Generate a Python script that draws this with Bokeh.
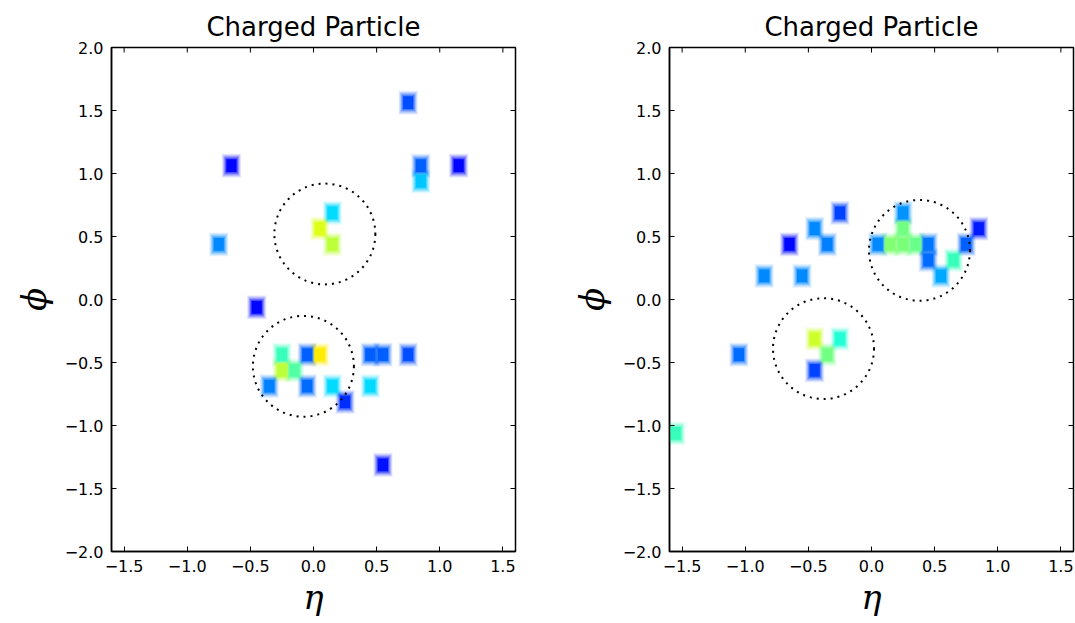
import numpy as np
from bokeh.plotting import figure
from bokeh.layouts import row
from bokeh.models import FixedTicker, Range1d
from bokeh.embed import file_html
from bokeh.resources import INLINE

# ---------------- data ----------------
title_text = "Charged Particle"
x_label = "η"
y_label = "ϕ"
x_ticks = [-1.5, -1.0, -0.5, 0.0, 0.5, 1.0, 1.5]
x_tick_labels = ["−1.5", "−1.0", "−0.5", "0.0", "0.5", "1.0", "1.5"]
y_ticks = [-2.0, -1.5, -1.0, -0.5, 0.0, 0.5, 1.0, 1.5, 2.0]
y_tick_labels = ["−2.0", "−1.5", "−1.0", "−0.5", "0.0", "0.5", "1.0", "1.5", "2.0"]
x_range = (-1.6, 1.6)
y_range = (-2.0, 2.0)
cell_w = 0.1
cell_h = 0.125
circle_radius = 0.4

left_eta = [0.75, -0.65, 0.85, 0.85, 1.15, -0.75, 0.15, 0.05, 0.15, -0.45,
            -0.25, -0.05, 0.05, 0.45, 0.55, 0.75, -0.25, -0.15, -0.35, -0.05,
            0.15, 0.45, 0.25, 0.55]
left_phi = [1.5625, 1.0625, 1.0625, 0.9375, 1.0625, 0.4375, 0.6875, 0.5625, 0.4375, -0.0625,
            -0.4375, -0.4375, -0.4375, -0.4375, -0.4375, -0.4375, -0.5625, -0.5625, -0.6875, -0.6875,
            -0.6875, -0.6875, -0.8125, -1.3125]
left_val = [0.20, 0.13, 0.22, 0.32, 0.13, 0.26, 0.34, 0.62, 0.58, 0.13,
            0.42, 0.22, 0.66, 0.22, 0.22, 0.20, 0.58, 0.45, 0.25, 0.23,
            0.34, 0.34, 0.17, 0.14]
left_circle_eta = [0.09, -0.08]
left_circle_phi = [0.52, -0.53]

right_eta = [-1.55, -1.05, -0.85, -0.65, -0.55, -0.45, -0.35, -0.25, -0.45, -0.25,
             -0.35, -0.45, 0.05, 0.15, 0.25, 0.35, 0.45, 0.25, 0.25, 0.45,
             0.55, 0.65, 0.75, 0.85]
right_phi = [-1.0625, -0.4375, 0.1875, 0.4375, 0.1875, 0.5625, 0.4375, 0.6875, -0.3125, -0.3125,
             -0.4375, -0.5625, 0.4375, 0.4375, 0.4375, 0.4375, 0.4375, 0.5625, 0.6875, 0.3125,
             0.1875, 0.3125, 0.4375, 0.5625]
right_val = [0.42, 0.23, 0.26, 0.13, 0.26, 0.26, 0.25, 0.19, 0.60, 0.39,
             0.49, 0.19, 0.26, 0.51, 0.50, 0.48, 0.24, 0.49, 0.27, 0.23,
             0.29, 0.42, 0.22, 0.15]
right_circle_eta = [-0.38, 0.38]
right_circle_phi = [-0.39, 0.39]

# ---------------- styling helpers ----------------
_jet = {
    "r": ([0, 0.35, 0.66, 0.89, 1], [0, 0, 1, 1, 0.5]),
    "g": ([0, 0.125, 0.375, 0.64, 0.91, 1], [0, 0, 1, 1, 0, 0]),
    "b": ([0, 0.11, 0.34, 0.65, 1], [0.5, 1, 1, 0, 0]),
}


def jet(v):
    r = np.interp(v, *_jet["r"])
    g = np.interp(v, *_jet["g"])
    b = np.interp(v, *_jet["b"])
    return "#%02x%02x%02x" % (int(r * 255), int(g * 255), int(b * 255))


# soft (interpolated) look: stacked translucent squares
halo_layers = [(1.55, 0.06), (1.45, 0.08), (1.35, 0.10), (1.25, 0.13),
               (1.15, 0.17), (1.05, 0.24), (0.95, 0.35)]
core_scale = 0.8


def make_panel(eta, phi, val, ceta, cphi, left_b, right_b, top_b, bottom_b):
    p = figure(frame_width=404, frame_height=504, output_backend="svg",
               toolbar_location=None, x_range=Range1d(*x_range), y_range=Range1d(*y_range),
               min_border_left=left_b, min_border_right=right_b,
               min_border_top=top_b, min_border_bottom=bottom_b,
               background_fill_color="white", border_fill_color="white")
    p.grid.visible = False
    p.outline_line_color = "black"
    p.outline_line_width = 1.5

    colors = [jet(v) for v in val]
    for s, a in halo_layers:
        p.rect(x=eta, y=phi, width=cell_w * s, height=cell_h * s, fill_color=colors,
               fill_alpha=a, line_color=None)
    p.rect(x=eta, y=phi, width=cell_w * core_scale, height=cell_h * core_scale,
           fill_color=colors, line_color=None)

    p.ellipse(x=ceta, y=cphi, width=2 * circle_radius, height=2 * circle_radius,
              fill_color=None, line_color="black", line_width=2, line_dash="2 5")

    # mirrored inward ticks on the top and right frame edges (clipped to the frame)
    p.scatter(x=x_ticks, y=[y_range[1]] * len(x_ticks), marker="dash", size=10,
              angle=np.pi / 2, line_color="black", line_width=1)
    p.scatter(x=[x_range[1]] * len(y_ticks), y=y_ticks, marker="dash", size=10,
              line_color="black", line_width=1)

    # axes
    for ax in (p.xaxis[0], p.yaxis[0]):
        ax.major_tick_in = 5
        ax.major_tick_out = 0
        ax.minor_tick_line_color = None
        ax.axis_line_width = 1.5
        ax.major_tick_line_width = 1
        ax.major_label_text_font = "DejaVu Sans"
        ax.major_label_text_font_size = "16px"
        ax.major_label_text_color = "black"
        ax.major_label_standoff = 8
        ax.axis_label_text_font = "DejaVu Serif"
        ax.axis_label_text_font_style = "italic"
        ax.axis_label_text_font_size = "34px"
        ax.axis_label_text_color = "black"
    p.xaxis[0].ticker = FixedTicker(ticks=x_ticks)
    p.xaxis[0].major_label_overrides = {t: l for t, l in zip(x_ticks, x_tick_labels)}
    p.yaxis[0].ticker = FixedTicker(ticks=y_ticks)
    p.yaxis[0].major_label_overrides = {t: l for t, l in zip(y_ticks, y_tick_labels)}
    p.xaxis[0].axis_label = x_label
    p.yaxis[0].axis_label = y_label
    p.xaxis[0].axis_label_standoff = 2
    p.yaxis[0].axis_label_standoff = 8

    p.title.text = title_text
    p.title.align = "center"
    p.title.text_font = "DejaVu Sans"
    p.title.text_font_size = "26px"
    p.title.text_font_style = "normal"
    p.title.text_color = "black"
    p.title.standoff = 12
    return p


p1 = make_panel(left_eta, left_phi, left_val, left_circle_eta, left_circle_phi,
                111, 25, 43, 76)
p2 = make_panel(right_eta, right_phi, right_val, right_circle_eta, right_circle_phi,
                129, 2, 47, 71)

layout = row(p1, p2)
open("out.html", "w").write(file_html(layout, INLINE))
